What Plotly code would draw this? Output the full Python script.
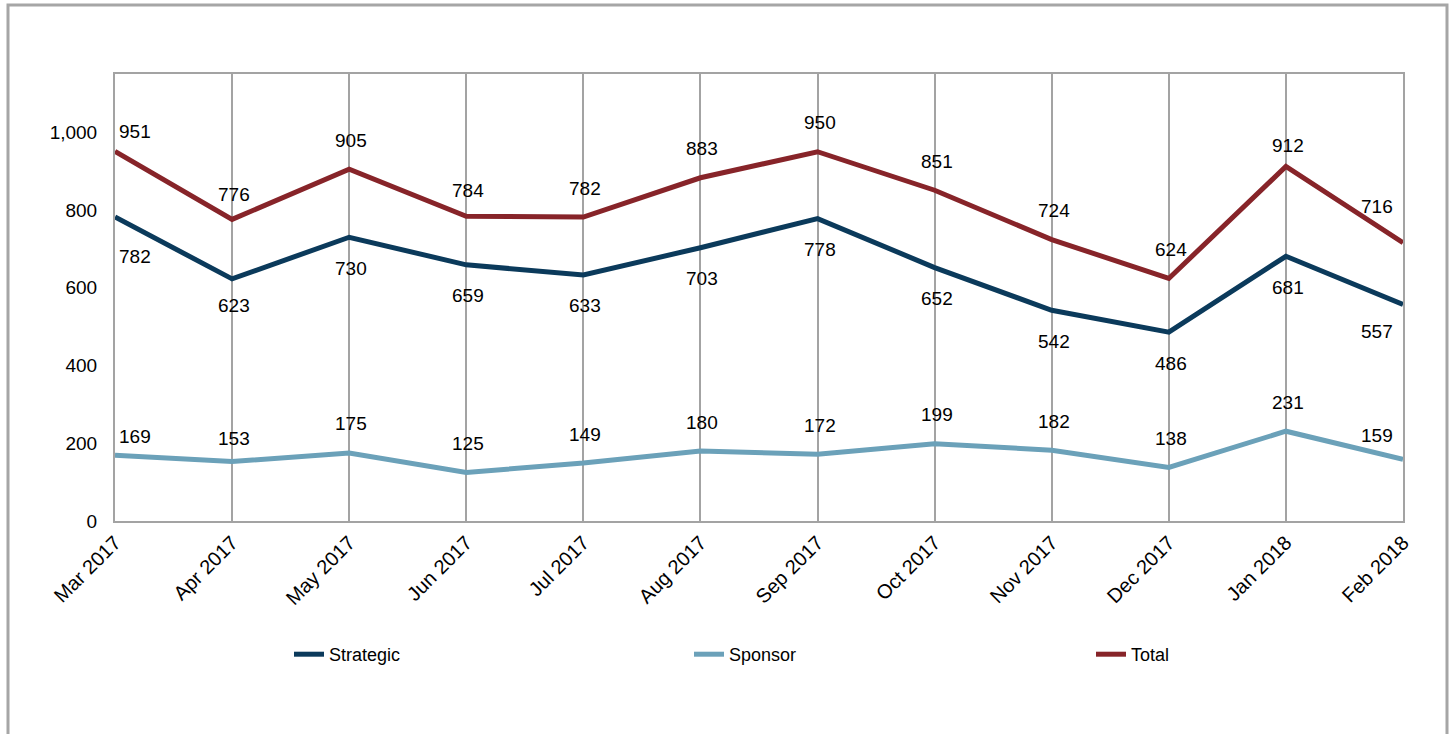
import plotly.graph_objects as go

months = ["Mar 2017", "Apr 2017", "May 2017", "Jun 2017", "Jul 2017", "Aug 2017",
          "Sep 2017", "Oct 2017", "Nov 2017", "Dec 2017", "Jan 2018", "Feb 2018"]
strategic = [782, 623, 730, 659, 633, 703, 778, 652, 542, 486, 681, 557]
sponsor = [169, 153, 175, 125, 149, 180, 172, 199, 182, 138, 231, 159]
total = [951, 776, 905, 784, 782, 883, 950, 851, 724, 624, 912, 716]
y_ticks = [0, 200, 400, 600, 800, 1000]

C_STRAT = "#0B3A5B"
C_SPON = "#6BA1B9"
C_TOTAL = "#872429"
FONT = "Liberation Sans, Arial, sans-serif"
GRID = "#A3A3A3"

W, H = 1452, 734
ML, MR, MT, MB = 115, 49, 74, 213
PW, PH = W - ML - MR, H - MT - MB

# label placement (style only): default vertical offset per series, plus a few tweaks
label_dy = {"Strategic": -31, "Sponsor": 29, "Total": 29}
label_dy_override = {("Total", 0): 20, ("Total", 1): 25, ("Total", 3): 26,
                     ("Total", 10): 21, ("Total", 11): 36,
                     ("Strategic", 0): -39, ("Strategic", 1): -27, ("Strategic", 11): -27,
                     ("Sponsor", 0): 19, ("Sponsor", 1): 23, ("Sponsor", 11): 24}


def px_x(p):
    return (p - ML) / PW


def px_y(p):
    return (H - MB - p) / PH


fig = go.Figure()
series = [("Strategic", strategic, C_STRAT, "legend", 289),
          ("Sponsor", sponsor, C_SPON, "legend2", 689),
          ("Total", total, C_TOTAL, "legend3", 1091)]
idx = list(range(len(months)))
for name, vals, col, leg, lx in series:
    fig.add_trace(go.Scatter(x=idx, y=vals, name=name, mode="lines",
                             line=dict(color=col, width=5),
                             legend=leg, hoverinfo="x+y"))

annotations = []
n = len(months)
for name, vals, col, leg, lx in series:
    for i, v in enumerate(vals):
        if i == 0:
            xs = 20
        elif i == n - 1:
            xs = -26
        else:
            xs = 2
        ys = label_dy_override.get((name, i), label_dy[name])
        annotations.append(dict(x=i, y=v, xref="x", yref="y", text=f"{v:,}",
                                showarrow=False, xshift=xs, yshift=ys,
                                font=dict(family=FONT, size=19, color="#000000")))

shapes = [dict(type="rect", xref="paper", yref="paper",
               x0=px_x(8), x1=px_x(1447), y0=px_y(760), y1=px_y(5),
               line=dict(color="#A6A6A6", width=3), layer="below")]

legends = {}
for name, vals, col, leg, lx in series:
    legends[leg] = dict(orientation="h", x=px_x(lx), y=px_y(636),
                        xanchor="left", yanchor="top",
                        font=dict(family=FONT, size=18), bgcolor="rgba(0,0,0,0)")

fig.update_layout(
    width=W, height=H,
    margin=dict(l=ML, r=MR, t=MT, b=MB),
    paper_bgcolor="white", plot_bgcolor="white",
    font=dict(family=FONT, size=19, color="#000000"),
    xaxis=dict(range=[0, n - 1], tickmode="array", tickvals=idx, ticktext=months,
               tickangle=-45, showgrid=True, gridcolor=GRID, gridwidth=1.5,
               showline=True, linecolor=GRID, linewidth=2, mirror=True,
               zeroline=False, ticks="", tickfont=dict(family=FONT, size=20)),
    yaxis=dict(range=[0, 1150], tickmode="array", tickvals=y_ticks,
               ticktext=[f"{t:,}" for t in y_ticks], showgrid=False,
               showline=True, linecolor=GRID, linewidth=2, mirror=True,
               zeroline=False, ticks="", ticklabelstandoff=12,
               tickfont=dict(family=FONT, size=19)),
    annotations=annotations,
    shapes=shapes,
    showlegend=True,
    **legends,
)

fig.write_html("out.html")
